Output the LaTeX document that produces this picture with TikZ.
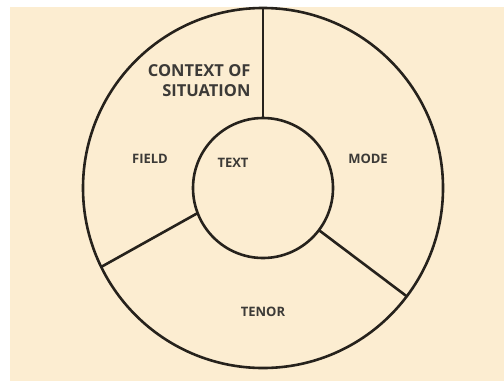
\documentclass[tikz,border=0pt]{standalone}
\usepackage{fontspec}
\setmainfont{Open Sans}
\usepackage{tikz}
\usetikzlibrary{positioning}
\definecolor{paper}{RGB}{252, 237, 209}
\definecolor{ink}{RGB}{38, 34, 28}
\definecolor{label}{RGB}{60, 58, 55}

\tikzset{
  ring/.style={circle, draw=ink, line width=2.6bp, outer sep=0pt, inner sep=0pt},
  divider/.style={draw=ink, line width=2.6bp},
  part/.style={text=label, font=\bfseries\fontsize{13bp}{15bp}\selectfont},
  title/.style={text=label, font=\bfseries\fontsize{16.5bp}{20bp}\selectfont, align=right}
}

\begin{document}
\begin{tikzpicture}[x=1bp, y=1bp]
  % page and paper
  \useasboundingbox (0,0) rectangle (504,383);
  \fill[white] (0,0) rectangle (504,383);
  \fill[paper] (10,2) rectangle (504,376);

  % circles
  \node[ring, minimum size=360bp] (ctx) at (263,195) {};
  \node[ring, minimum size=140bp] (txt) at (263,195) {};

  % dividers
  \draw[divider] (txt.90) -- (ctx.90);
  \draw[divider] (txt.201) -- (ctx.206);
  \draw[divider] (txt.323.5) -- (ctx.323);

  % labels
  \node[title, anchor=east] (situation) at (254,302) {CONTEXT OF\\SITUATION};
  \node[part] (field) at (150,224) {FIELD};
  \node[part] (text) at (233,220) {TEXT};
  \node[part] (mode) at (368,224) {MODE};
  \node[part] (tenor) at (263,71) {TENOR};
\end{tikzpicture}
\end{document}
